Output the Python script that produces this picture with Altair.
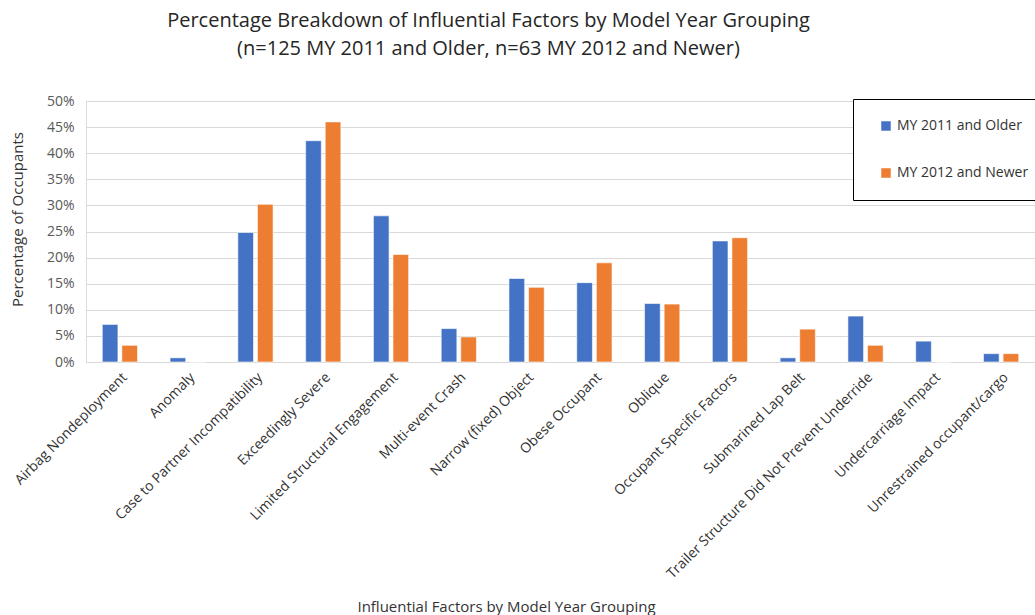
import altair as alt
import pandas as pd

categories = [
    "Airbag Nondeployment", "Anomaly", "Case to Partner Incompatibility",
    "Exceedingly Severe", "Limited Structural Engagement", "Multi-event Crash",
    "Narrow (fixed) Object", "Obese Occupant", "Oblique",
    "Occupant Specific Factors", "Submarined Lap Belt",
    "Trailer Structure Did Not Prevent Underride", "Undercarriage Impact",
    "Unrestrained occupant/cargo",
]
series_names = ["MY 2011 and Older", "MY 2012 and Newer"]
older = [7.2, 0.8, 24.8, 42.4, 28.0, 6.4, 16.0, 15.2, 11.2, 23.2, 0.8, 8.8, 4.0, 1.6]
newer = [3.2, 0.0, 30.2, 46.0, 20.6, 4.8, 14.3, 19.0, 11.1, 23.8, 6.3, 3.2, 0.0, 1.6]
y_ticks = [0, 0.05, 0.10, 0.15, 0.20, 0.25, 0.30, 0.35, 0.40, 0.45, 0.50]

rows = []
for c, a, b in zip(categories, older, newer):
    rows.append({"factor": c, "group": series_names[0], "value": a / 100})
    rows.append({"factor": c, "group": series_names[1], "value": b / 100})
df = pd.DataFrame(rows)

FONT = "Open Sans"

chart = alt.Chart(df).mark_bar(stroke="white", strokeWidth=0.6).encode(
    x=alt.X("factor:N", sort=categories,
            scale=alt.Scale(paddingInner=0.48, paddingOuter=0.24),
            axis=alt.Axis(title="Influential Factors by Model Year Grouping",
                          labelAngle=-45, labelFontSize=14, labelColor="#333333",
                          labelFont=FONT, labelPadding=8, labelLimit=400,
                          ticks=False, domainColor="#d9d9d9",
                          titleFont=FONT, titleFontSize=15, titleFontWeight="normal",
                          titleColor="#333333", titleX=420, titleY=249,
                          titleAlign="center", titleBaseline="alphabetic")),
    xOffset=alt.XOffset("group:N", sort=series_names,
                        scale=alt.Scale(paddingInner=0.2)),
    y=alt.Y("value:Q", scale=alt.Scale(domain=[0, 0.5], nice=False),
            axis=alt.Axis(title="Percentage of Occupants", format=".0%",
                          values=y_ticks, labelFontSize=14, labelColor="#595959",
                          labelFont=FONT, labelPadding=12, ticks=False, domain=False,
                          gridColor="#d9d9d9", gridWidth=1,
                          titleFont=FONT, titleFontSize=15, titleFontWeight="normal",
                          titleColor="#333333", titleX=-76, titleY=118,
                          titleAlign="center", titleBaseline="top")),
    color=alt.Color("group:N", sort=series_names,
                    scale=alt.Scale(domain=series_names, range=["#4472C4", "#ED7D31"]),
                    legend=alt.Legend(title=None, orient="none", legendX=767, legendY=-2,
                                      symbolType="square", symbolSize=90,
                                      symbolStrokeWidth=0, labelFontSize=14,
                                      labelFont=FONT, labelColor="#333333",
                                      rowPadding=33, padding=20,
                                      strokeColor="black", fillColor="white",
                                      symbolOffset=6)),
).properties(
    width=949,
    height=261,
    title=alt.TitleParams(
        text=["Percentage Breakdown of Influential Factors by Model Year Grouping",
              "(n=125 MY 2011 and Older, n=63 MY 2012 and Newer)"],
        font=FONT, fontSize=20, fontWeight="normal", color="#262626",
        lineHeight=28, anchor="middle", dx=-72, offset=35,
    ),
    autosize=alt.AutoSizeParams(type="none"),
    padding={"left": 86, "top": 101, "right": 0, "bottom": 253},
).configure_view(stroke=None).configure(background="white")

chart.save("out.html", embed_options={"renderer": "svg", "actions": False})
